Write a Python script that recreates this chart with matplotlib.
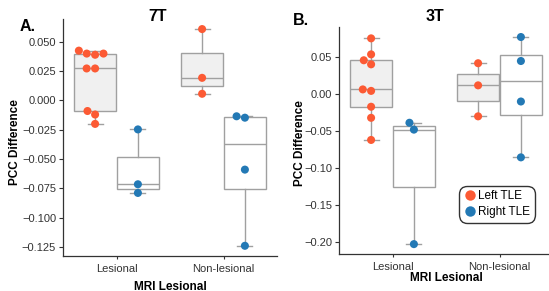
import numpy as np
import pandas as pd
import matplotlib
matplotlib.use("Agg")
import matplotlib.pyplot as plt
import seaborn as sns
from matplotlib.lines import Line2D

plt.rcParams['font.family'] = ['Liberation Sans', 'DejaVu Sans']

categories = ["Lesional", "Non-lesional"]
groups = ["Left TLE", "Right TLE"]
colors = {"Left TLE": "#FC5A34", "Right TLE": "#2379B5"}
fills = {"Left TLE": "#F0F0F0", "Right TLE": "#FFFFFF"}

# 7T values
t7_left_les = [0.0425, 0.040, 0.039, 0.040, 0.0273, 0.0273, -0.009, -0.012, -0.020]
t7_left_non = [0.0609, 0.0193, 0.0057]
t7_right_les = [-0.0247, -0.0715, -0.0789]
t7_right_non = [-0.0135, -0.0147, -0.059, -0.124]

# 3T values
t3_left_les = [0.0757, 0.054, 0.046, 0.0405, 0.0065, 0.0045, -0.017, -0.032, -0.062]
t3_left_non = [0.042, 0.012, -0.030]
t3_right_les = [-0.0387, -0.048, -0.2032]
t3_right_non = [0.0775, 0.045, -0.0099, -0.0856]

def make_df(ll, ln, rl, rn):
    rows = []
    for cat, grp, vals in [("Lesional", "Left TLE", ll), ("Non-lesional", "Left TLE", ln),
                           ("Lesional", "Right TLE", rl), ("Non-lesional", "Right TLE", rn)]:
        for v in vals:
            rows.append((cat, grp, v))
    return pd.DataFrame(rows, columns=["MRI", "Side", "PCC"])

fig = plt.figure(figsize=(5.49, 2.91), dpi=100)
axA = fig.add_axes([63/549, 1-256/291, 214/549, 237/291])
axB = fig.add_axes([339/549, 1-254.3/291, 214/549, 227.6/291])

def draw(ax, df, yticks, fmt):
    for gi, grp in enumerate(groups):
        for ci, cat in enumerate(categories):
            vals = df[(df.MRI == cat) & (df.Side == grp)].PCC.values
            pos = ci + (-0.2 if gi == 0 else 0.2)
            ax.boxplot([vals], positions=[pos], widths=0.39, patch_artist=True,
                       showfliers=False, manage_ticks=False,
                       boxprops=dict(facecolor=fills[grp], edgecolor="#A0A0A0", linewidth=1.0),
                       medianprops=dict(color="#A0A0A0", linewidth=1.0),
                       whiskerprops=dict(color="#A0A0A0", linewidth=1.0),
                       capprops=dict(color="#A0A0A0", linewidth=1.0),
                       capwidths=0.14, zorder=1)
    sns.swarmplot(data=df, x="MRI", y="PCC", hue="Side", order=categories, hue_order=groups,
                  palette=colors, dodge=True, size=5.8, ax=ax, zorder=3, legend=False,
                  linewidth=0)
    ax.set_xlim(-0.5, 1.5)
    ax.set_xticks([0, 1])
    ax.set_xticklabels(categories, fontsize=8, color="#333333")
    ax.set_yticks(yticks)
    ax.set_yticklabels([fmt.format(v).replace("-", "\u2212") for v in yticks], fontsize=8, color="#333333")
    ax.tick_params(axis="x", length=2.5, width=0.8, color="#333333", pad=3)
    ax.tick_params(axis="y", length=3, width=0.8, color="#333333", pad=2)
    for s in ["top", "right"]:
        ax.spines[s].set_visible(False)
    for s in ["left", "bottom"]:
        ax.spines[s].set_color("#333333")
        ax.spines[s].set_linewidth(0.9)
    ax.set_ylabel("PCC Difference", fontsize=8.5, fontweight="bold")
    ax.set_xlabel("MRI Lesional", fontsize=8.5, fontweight="bold")

dfA = make_df(t7_left_les, t7_left_non, t7_right_les, t7_right_non)
dfB = make_df(t3_left_les, t3_left_non, t3_right_les, t3_right_non)

draw(axA, dfA, [0.05, 0.025, 0.0, -0.025, -0.05, -0.075, -0.1, -0.125], "{:.3f}")
draw(axB, dfB, [0.05, 0.0, -0.05, -0.1, -0.15, -0.2], "{:.2f}")

axA.set_ylim(-0.1327, 0.0695)
axB.set_ylim(-0.217, 0.0915)

axA.yaxis.set_label_coords((20.5-63)/214, 0.48)
axB.yaxis.set_label_coords((306-339)/214, 0.49)
axA.xaxis.set_label_coords(0.5, -(280.5-256)/237)
axB.xaxis.set_label_coords(0.5, -(272-254.3)/227.6)

fig.text(158/549, 1-20.7/291, "7T", fontsize=11.5, fontweight="bold", va="baseline", ha="center")
fig.text(435/549, 1-20.7/291, "3T", fontsize=11.5, fontweight="bold", va="baseline", ha="center")
fig.text(20/549, 1-30.7/291, "A.", fontsize=11.5, fontweight="bold", va="baseline", ha="left")
fig.text(293/549, 1-25/291, "B.", fontsize=11.5, fontweight="bold", va="baseline", ha="left")

handles = [Line2D([], [], marker="o", linestyle="none", markersize=7.5,
                  markerfacecolor=colors[g], markeredgewidth=0) for g in groups]
leg = axB.legend(handles, groups, loc="upper left", bbox_to_anchor=((459-339)/214, 1-(186-26.7)/227.6),
                 fontsize=8.5, frameon=True, handletextpad=0.1, handlelength=1.2,
                 borderpad=0.35, labelspacing=0.35, borderaxespad=0)
frame = leg.get_frame()
frame.set_edgecolor("black")
frame.set_linewidth(1.0)
frame.set_boxstyle("round,pad=0.02,rounding_size=0.7")

fig.savefig("out.png", dpi=100)
